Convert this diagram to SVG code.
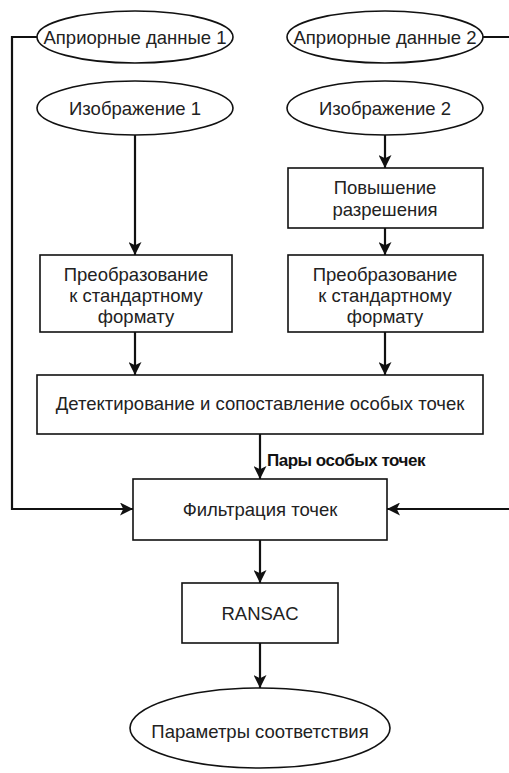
<svg xmlns="http://www.w3.org/2000/svg" width="509" height="773" viewBox="0 0 509 773">
<defs>
<marker id="ah" viewBox="0 0 12 12" refX="12" refY="6" markerWidth="13" markerHeight="13" markerUnits="userSpaceOnUse" orient="auto">
<path d="M0,0 L12,6 L0,12 L3,6 Z" fill="#111"/>
</marker>
<style>
.n{fill:#fff;stroke:#111;stroke-width:1.6}
.t{font-family:"Liberation Sans",Arial,sans-serif;font-size:18.5px;fill:#222;text-anchor:middle}
.b{font-family:"Liberation Sans",Arial,sans-serif;font-size:17px;font-weight:bold;fill:#111;letter-spacing:-0.5px}
.c{fill:none;stroke:#111;stroke-width:2.2}
.a{marker-end:url(#ah)}
</style>
</defs>
<rect width="509" height="773" fill="#fff"/>
<g id="connectors">
<path class="c a" d="M37,37 H12 V509 H133"/>
<path class="c a" d="M483,37 H512 V509 H387"/>
<path class="c a" d="M135,135 V255"/>
<path class="c a" d="M385,135 V168"/>
<path class="c a" d="M385,228 V255"/>
<path class="c a" d="M135,332 V375"/>
<path class="c a" d="M385,332 V375"/>
<path class="c a" d="M260,434 V479"/>
<path class="c a" d="M260,540 V583"/>
<path class="c a" d="M260,643 V688"/>
<text class="b" x="267" y="466">Пары особых точек</text>
</g>
<g id="apriori1"><ellipse class="n" cx="135" cy="37" rx="98" ry="26"/><text class="t" x="135" y="43.5">Априорные данные 1</text></g>
<g id="apriori2"><ellipse class="n" cx="385" cy="37" rx="98" ry="26"/><text class="t" x="385" y="43.5">Априорные данные 2</text></g>
<g id="image1"><ellipse class="n" cx="135" cy="108" rx="98" ry="27"/><text class="t" x="135" y="114.5">Изображение 1</text></g>
<g id="image2"><ellipse class="n" cx="385" cy="108" rx="98" ry="27"/><text class="t" x="385" y="114.5">Изображение 2</text></g>
<g id="upscale"><rect class="n" x="288" y="168" width="195" height="60"/><text class="t" x="385" y="194">Повышение</text><text class="t" x="385" y="216">разрешения</text></g>
<g id="convert1"><rect class="n" x="40" y="255" width="192" height="77"/><text class="t" x="136" y="281">Преобразование</text><text class="t" x="136" y="302">к стандартному</text><text class="t" x="136" y="323">формату</text></g>
<g id="convert2"><rect class="n" x="288" y="255" width="195" height="77"/><text class="t" x="385" y="281">Преобразование</text><text class="t" x="385" y="302">к стандартному</text><text class="t" x="385" y="323">формату</text></g>
<g id="detect"><rect class="n" x="37" y="375" width="446" height="59"/><text class="t" x="260" y="410">Детектирование и сопоставление особых точек</text></g>
<g id="filter"><rect class="n" x="133" y="479" width="254" height="61"/><text class="t" x="260" y="515.5">Фильтрация точек</text></g>
<g id="ransac"><rect class="n" x="182" y="583" width="156" height="60"/><text class="t" x="260" y="619.5">RANSAC</text></g>
<g id="params"><ellipse class="n" cx="260" cy="728" rx="130" ry="40"/><text class="t" x="260" y="738">Параметры соответствия</text></g>
</svg>
